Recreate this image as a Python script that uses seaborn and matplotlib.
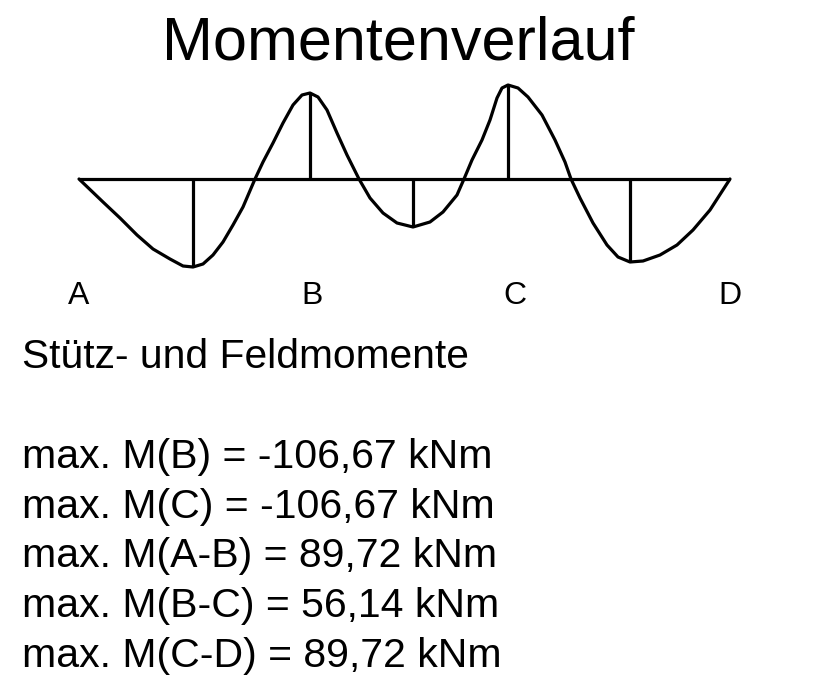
import matplotlib
matplotlib.use("Agg")
import matplotlib.pyplot as plt
import seaborn as sns
import pandas as pd

# Beam stations (drawing units along the beam) and moment values
# (positive = field moment drawn downward, negative = support moment drawn upward)
beam_x = [79, 103, 120, 137, 153, 170, 183, 193, 203, 213, 223, 233, 243, 255,
          263, 273, 283, 293, 302, 310, 318, 327, 337, 347, 359,
          370, 383, 397, 413, 430, 443, 457, 464,
          472, 482, 490, 497, 502, 508, 518, 528, 542, 555, 565, 571,
          580, 593, 607, 618, 630, 643, 660, 677, 693, 710, 730]
moment = [0, 23, 39, 56, 70, 80, 87, 88, 85, 76, 63, 46, 28, 0,
          -17, -36, -56, -74, -84, -86, -82, -69, -46, -24, 0,
          19, 34, 44, 48, 43, 33, 16, 0,
          -19, -39, -59, -81, -91, -94, -91, -82, -64, -39, -17, 0,
          19, 44, 66, 78, 83, 82, 76, 66, 51, 31, 0]

# Ordinates marked with vertical lines (stations and values)
mark_x = [193, 310, 413, 508, 630]
mark_m = [88, -86, 48, -94, 83]

# Supports
support_labels = ["A", "B", "C", "D"]
support_x = [79, 312, 515, 730]

title = "Momentenverlauf"
heading = "Stütz- und Feldmomente"
result_lines = [
    "max. M(B) = -106,67 kNm",
    "max. M(C) = -106,67 kNm",
    "max. M(A-B) = 89,72 kNm",
    "max. M(B-C) = 56,14 kNm",
    "max. M(C-D) = 89,72 kNm",
]

sns.set_theme(style="white")
plt.rcParams["font.family"] = ["Liberation Sans", "DejaVu Sans"]

W, H = 815, 683
fig = plt.figure(figsize=(W / 100, H / 100), dpi=100)
ax = fig.add_axes([0, 0, 1, 1])
base_y = 179
ax.set_xlim(0, W)
ax.set_ylim(H - base_y, -base_y)
ax.axis("off")

df = pd.DataFrame({"x": beam_x, "M": moment})
sns.lineplot(data=df, x="x", y="M", sort=False, color="black", linewidth=2.3, ax=ax,
             solid_joinstyle="round", solid_capstyle="round")
ax.plot([beam_x[0], beam_x[-1]], [0, 0], color="black", linewidth=2.3, solid_capstyle="butt")
ax.vlines(mark_x, 0, mark_m, color="black", linewidth=2.3)

def px(x, y):
    return x / W, 1 - y / H

fig.text(*px(398, 60), title, fontsize=44, ha="center", va="baseline", color="black")
for lab, sx in zip(support_labels, support_x):
    fig.text(*px(sx, 304), lab, fontsize=23, ha="center", va="baseline", color="black")
fig.text(*px(22, 368), heading, fontsize=29.3, ha="left", va="baseline", color="black")
for i, line in enumerate(result_lines):
    fig.text(*px(22, 468 + 49.7 * i), line, fontsize=29.5, ha="left", va="baseline", color="black")

fig.savefig("out.png", dpi=100, facecolor="white")
